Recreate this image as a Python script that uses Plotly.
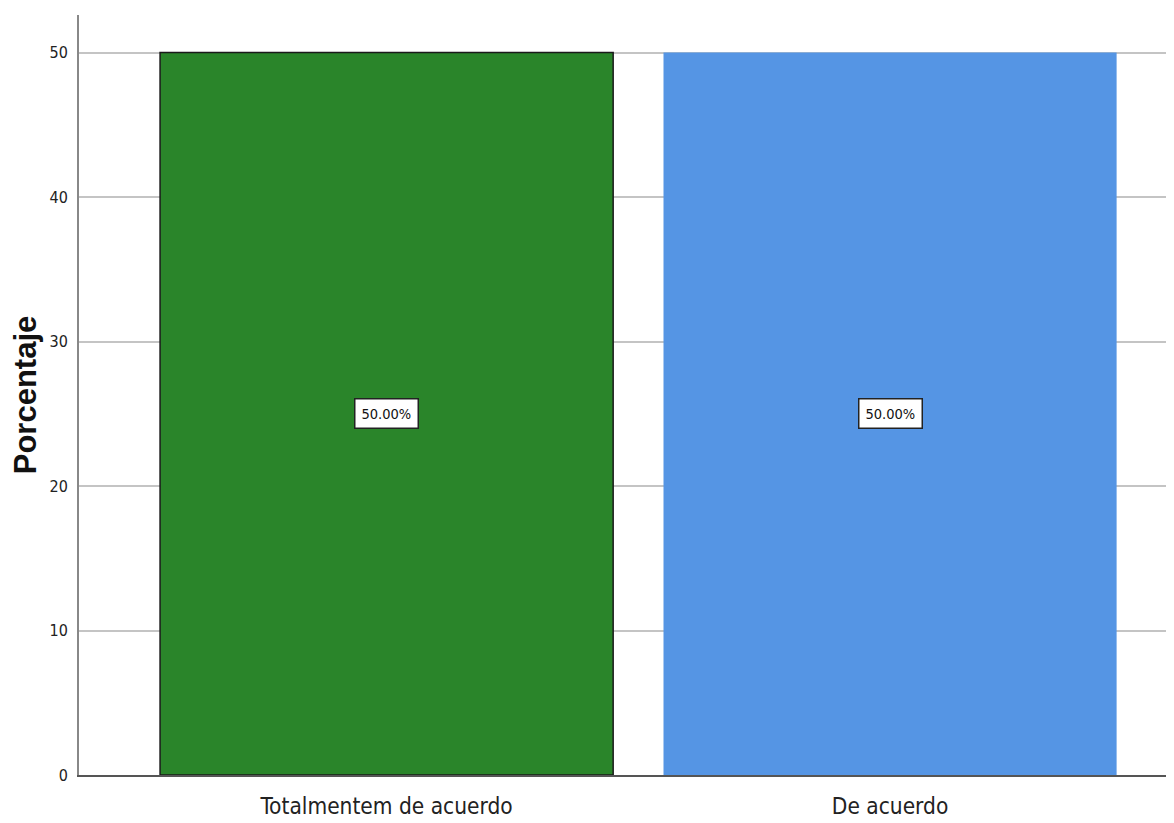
import plotly.graph_objects as go

categories = ["Totalmentem de acuerdo", "De acuerdo"]
values = [50.0, 50.0]
labels = ["50.00%", "50.00%"]
colors = ["#2a852a", "#5595e4"]
line_colors = ["#1a1a1a", "#5595e4"]

FONT = "DejaVu Sans Condensed, Liberation Sans, Arial, sans-serif"

fig = go.Figure()
fig.add_trace(go.Bar(
    x=categories, y=values, width=0.9,
    marker=dict(color=colors, line=dict(color=line_colors, width=[1.5, 0])),
    hoverinfo="skip",
))
for c, v, t in zip(categories, values, labels):
    fig.add_annotation(x=c, y=v / 2, text=t, showarrow=False,
                       font=dict(family=FONT, size=14.5, color="#111"),
                       bgcolor="white", bordercolor="#222", borderwidth=1.5, borderpad=6)

fig.update_layout(
    width=1174, height=823,
    margin=dict(l=71, r=8, t=7, b=56, autoexpand=False),
    plot_bgcolor="white", paper_bgcolor="white",
    showlegend=False,
    bargap=0.1,
)
fig.update_xaxes(range=[-0.611, 1.564], showline=True, linecolor="#555", linewidth=1.5,
                 ticks="", showgrid=False, ticklabelstandoff=10, automargin=False,
                 tickfont=dict(family=FONT, size=22.5, color="#222"))
fig.update_yaxes(range=[0, 52.6], tickvals=[0, 10, 20, 30, 40, 50], showline=True,
                 linecolor="#888", linewidth=2, ticks="", ticklabelstandoff=6, automargin=False,
                 showgrid=True, gridcolor="#c4c4c4", gridwidth=2, zeroline=False,
                 tickfont=dict(family=FONT, size=16, color="#222"),
                 title=dict(text="<b>Porcentaje</b>", standoff=24,
                            font=dict(family="Liberation Sans, Arial, sans-serif", size=31, color="#111")))

fig.write_html("out.html")
